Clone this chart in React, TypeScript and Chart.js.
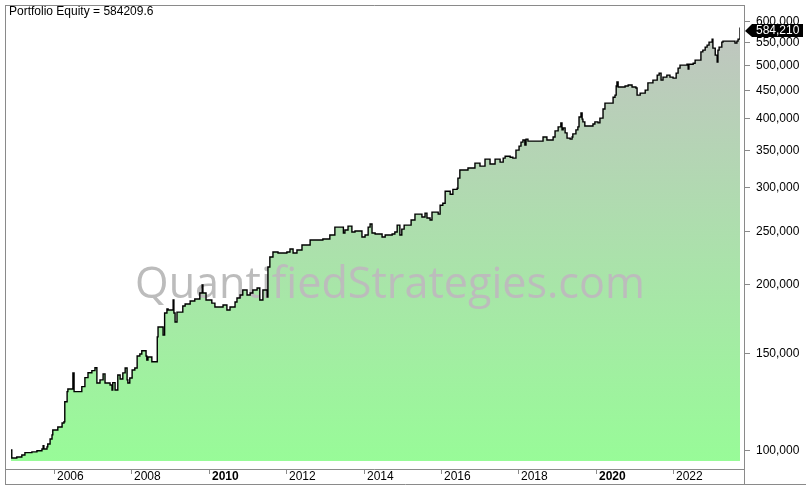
import React, { useEffect, useRef } from 'react';
import { Chart, registerables } from 'chart.js';

Chart.register(...registerables);

const years = [
  2004.89, 2004.91, 2005.04, 2005.17, 2005.25, 2005.43, 2005.56, 2005.69, 2005.72, 2005.74,
  2005.82, 2005.84, 2005.90, 2005.95, 2005.97, 2006.10, 2006.21, 2006.26, 2006.28, 2006.34,
  2006.36, 2006.49, 2006.52, 2006.72, 2006.80, 2006.88, 2006.98, 2007.06, 2007.11, 2007.19,
  2007.27, 2007.32, 2007.45, 2007.50, 2007.52, 2007.58, 2007.65, 2007.71, 2007.78, 2007.84,
  2007.89, 2007.91, 2007.96, 2008.02, 2008.09, 2008.15, 2008.22, 2008.27, 2008.38, 2008.40,
  2008.43, 2008.53, 2008.67, 2008.69, 2008.82, 2008.86, 2008.92, 2008.95, 2009.08, 2009.10,
  2009.13, 2009.18, 2009.33, 2009.39, 2009.52, 2009.64, 2009.77, 2009.83, 2009.85, 2009.93,
  2010.08, 2010.16, 2010.37, 2010.47, 2010.55, 2010.68, 2010.73, 2010.81, 2010.88, 2010.99,
  2011.07, 2011.14, 2011.25, 2011.32, 2011.40, 2011.51, 2011.53, 2011.58, 2011.66, 2011.79,
  2012.02, 2012.10, 2012.18, 2012.28, 2012.41, 2012.62, 2012.95, 2013.13, 2013.26, 2013.48,
  2013.52, 2013.60, 2013.70, 2013.78, 2013.96, 2014.04, 2014.12, 2014.17, 2014.22, 2014.30,
  2014.48, 2014.56, 2014.74, 2014.81, 2014.87, 2014.94, 2014.99, 2015.05, 2015.23, 2015.33,
  2015.51, 2015.59, 2015.64, 2015.72, 2015.77, 2015.93, 2015.98, 2016.05, 2016.11, 2016.24,
  2016.31, 2016.42, 2016.44, 2016.49, 2016.70, 2016.88, 2017.01, 2017.14, 2017.27, 2017.40,
  2017.53, 2017.61, 2017.66, 2017.79, 2017.86, 2017.94, 2018.02, 2018.07, 2018.12, 2018.17,
  2018.20, 2018.25, 2018.64, 2018.74, 2018.90, 2018.95, 2019.03, 2019.10, 2019.13, 2019.16,
  2019.21, 2019.26, 2019.34, 2019.39, 2019.41, 2019.49, 2019.54, 2019.57, 2019.62, 2019.65,
  2019.67, 2019.72, 2019.93, 2019.98, 2020.06, 2020.11, 2020.19, 2020.24, 2020.45, 2020.50,
  2020.53, 2020.55, 2020.58, 2020.76, 2020.84, 2020.94, 2021.04, 2021.07, 2021.15, 2021.28,
  2021.35, 2021.48, 2021.59, 2021.64, 2021.69, 2021.74, 2021.84, 2021.92, 2022.00, 2022.08,
  2022.13, 2022.18, 2022.36, 2022.39, 2022.41, 2022.52, 2022.57, 2022.72, 2022.77, 2022.83,
  2022.88, 2022.93, 2023.01, 2023.03, 2023.09, 2023.14, 2023.16, 2023.19, 2023.26, 2023.29,
  2023.60, 2023.65, 2023.68, 2023.73,
];

const equity = [
  100000, 96700, 97100, 97900, 98900, 99200, 99700, 100400, 101800, 100400,
  101300, 102500, 104700, 106500, 108700, 110100, 111900, 112500, 122300, 127600,
  129000, 138000, 127600, 130300, 135300, 138100, 139300, 141000, 132300, 134000,
  137400, 132300, 131200, 128500, 132500, 128500, 136800, 134500, 138000, 140800,
  134000, 132300, 135100, 139700, 140800, 148100, 149300, 151400, 148100, 145600,
  147500, 144600, 160400, 167200, 161600, 177200, 180200, 179500, 187100, 177200,
  170700, 177900, 182500, 184000, 186300, 187900, 192700, 199200, 192700, 187100,
  184700, 181700, 183300, 179500, 181700, 185600, 188700, 191100, 195100, 191100,
  192700, 195100, 196700, 187100, 195100, 189500, 214800, 224000, 228700, 227700,
  228700, 231600, 227700, 230600, 235500, 240400, 241400, 245500, 253700, 247500,
  250600, 254800, 248600, 249600, 243500, 245500, 253700, 257000, 247500, 246500,
  243500, 245500, 246500, 248600, 255800, 245500, 251600, 255800, 261300, 267900,
  264600, 269000, 263500, 261300, 270100, 267900, 278000, 280400, 294700, 291100,
  297100, 298400, 311400, 322000, 324700, 331500, 327400, 337000, 330200, 337000,
  332900, 338400, 341200, 339800, 338400, 350000, 355900, 361900, 365000, 357400,
  366500, 363400, 369600, 365000, 369600, 379200, 385600, 392100, 380800, 384000,
  376100, 368000, 366500, 369600, 374500, 380800, 385600, 401800, 408600, 398400,
  393800, 387200, 390400, 393800, 392100, 400100, 415500, 425900, 436600, 440400,
  457600, 465300, 455700, 457600, 459500, 455700, 453800, 440400, 444100, 449700,
  463400, 468900, 478800, 482800, 468900, 474800, 478800, 474800, 472800, 482800,
  492900, 499100, 501100, 490900, 501100, 503200, 509700, 527500, 531500, 538200,
  542700, 549600, 556400, 536000, 520500, 505500, 531500, 538200, 549600, 551900,
  547300, 551900, 556400, 584209.6,
];

const yTickValues = [100000, 150000, 200000, 250000, 300000, 350000, 400000, 450000, 500000, 550000, 600000];
const xTickYears = [2006, 2008, 2010, 2012, 2014, 2016, 2018, 2020, 2022];
const boldYears = [2010, 2020];
const titleText = 'Portfolio Equity';
const watermarkText = 'QuantifiedStrategies.com';

export default function App() {
  const ref = useRef<HTMLCanvasElement>(null);

  useEffect(() => {
    document.body.style.margin = '0';
    const canvas = ref.current;
    if (!canvas) return;
    const points = years.map((x, i) => ({ x, y: equity[i] }));
    const last = equity[equity.length - 1];
    const baseFont = 'Arial, "Liberation Sans", sans-serif';
    const frameColor = '#8a8a8a';

    const overlay = {
      id: 'overlay',
      afterDatasetDraw(chart: any, args: any) {
        if (args.index !== 1) return;
        const c = chart.ctx as CanvasRenderingContext2D;
        c.save();
        c.font = '42px "Open Sans", "Noto Sans", sans-serif';
        const w = c.measureText(watermarkText).width;
        const size = 42 * 510 / w;
        c.font = `${size.toFixed(2)}px "Open Sans", "Noto Sans", sans-serif`;
        c.fillStyle = '#bcbcbc';
        c.textAlign = 'center';
        c.textBaseline = 'alphabetic';
        c.fillText(watermarkText, 390, 298);
        c.restore();
      },
      afterDraw(chart: any) {
        const c = chart.ctx as CanvasRenderingContext2D;
        const xs = chart.scales.x;
        const ys = chart.scales.y;
        c.save();
        c.strokeStyle = frameColor;
        c.lineWidth = 1;
        const seg = (x1: number, y1: number, x2: number, y2: number) => {
          c.beginPath();
          c.moveTo(x1, y1);
          c.lineTo(x2, y2);
          c.stroke();
        };
        seg(5, 5.5, 744.5, 5.5);
        seg(5.5, 5, 5.5, 484.5);
        seg(744.5, 5, 744.5, 484.5);
        seg(5, 469.5, 744.5, 469.5);
        seg(5, 484.5, 806, 484.5);

        // y axis
        c.font = `12px ${baseFont}`;
        c.textBaseline = 'middle';
        c.textAlign = 'left';
        yTickValues.forEach((v) => {
          const py = Math.round(ys.getPixelForValue(v)) + 0.5;
          c.strokeStyle = frameColor;
          seg(745, py, 750, py);
          c.fillStyle = '#000';
          c.fillText(v.toLocaleString('en-US'), 756, py);
        });

        // x axis
        xTickYears.forEach((yr) => {
          const px = Math.round(xs.getPixelForValue(yr)) + 0.5;
          c.strokeStyle = frameColor;
          seg(px, 470, px, 474);
          c.font = `${boldYears.includes(yr) ? 'bold ' : ''}12px ${baseFont}`;
          c.fillStyle = '#000';
          c.fillText(String(yr), px + 2.5, 476.5);
        });

        // title
        c.font = `12px ${baseFont}`;
        c.fillStyle = '#000';
        c.fillText(`${titleText} = ${last.toFixed(1)}`, 9, 12);

        // last value label (arrow box pointing at the final equity level)
        const ly = ys.getPixelForValue(last) + 3.5;
        c.fillStyle = '#000';
        c.beginPath();
        c.moveTo(745, ly);
        c.lineTo(752, ly - 7);
        c.lineTo(803, ly - 7);
        c.lineTo(803, ly + 6);
        c.lineTo(752, ly + 6);
        c.closePath();
        c.fill();
        c.fillStyle = '#fff';
        c.fillText(Math.round(last).toLocaleString('en-US'), 756, ly);
        c.restore();
      },
    };

    const chart = new Chart(canvas, {
      type: 'line',
      data: {
        datasets: [
          {
            data: points,
            borderColor: '#000',
            borderWidth: 1.4,
            pointRadius: 0,
            stepped: 'before',
            fill: false,
            order: 0,
          },
          {
            data: points,
            borderColor: 'rgba(0,0,0,0)',
            borderWidth: 1,
            pointRadius: 0,
            stepped: 'before',
            fill: 'start',
            order: 1,
            backgroundColor: (ctx: any) => {
              const area = ctx.chart.chartArea;
              if (!area) return '#98fb98';
              const g = ctx.chart.ctx.createLinearGradient(0, area.top, 0, area.bottom);
              g.addColorStop(0, '#c2c2c2');
              g.addColorStop(1, '#98fb98');
              return g;
            },
          },
        ],
      },
      options: {
        responsive: false,
        animation: false,
        events: [],
        layout: { padding: { left: 11, top: 5, right: 70, bottom: 32 } },
        scales: {
          x: { type: 'linear', min: 2004.89, max: 2023.73, display: false },
          y: { type: 'logarithmic', min: 95500, max: 641700, display: false },
        },
        plugins: {
          legend: { display: false },
          tooltip: { enabled: false },
        },
      } as any,
      plugins: [overlay],
    });

    return () => chart.destroy();
  }, []);

  return (
    <div style={{ position: 'absolute', left: 0, top: 0, width: 810, height: 493, background: '#fff' }}>
      <canvas ref={ref} width={810} height={493} style={{ width: 810, height: 493, display: 'block' }} />
    </div>
  );
}
